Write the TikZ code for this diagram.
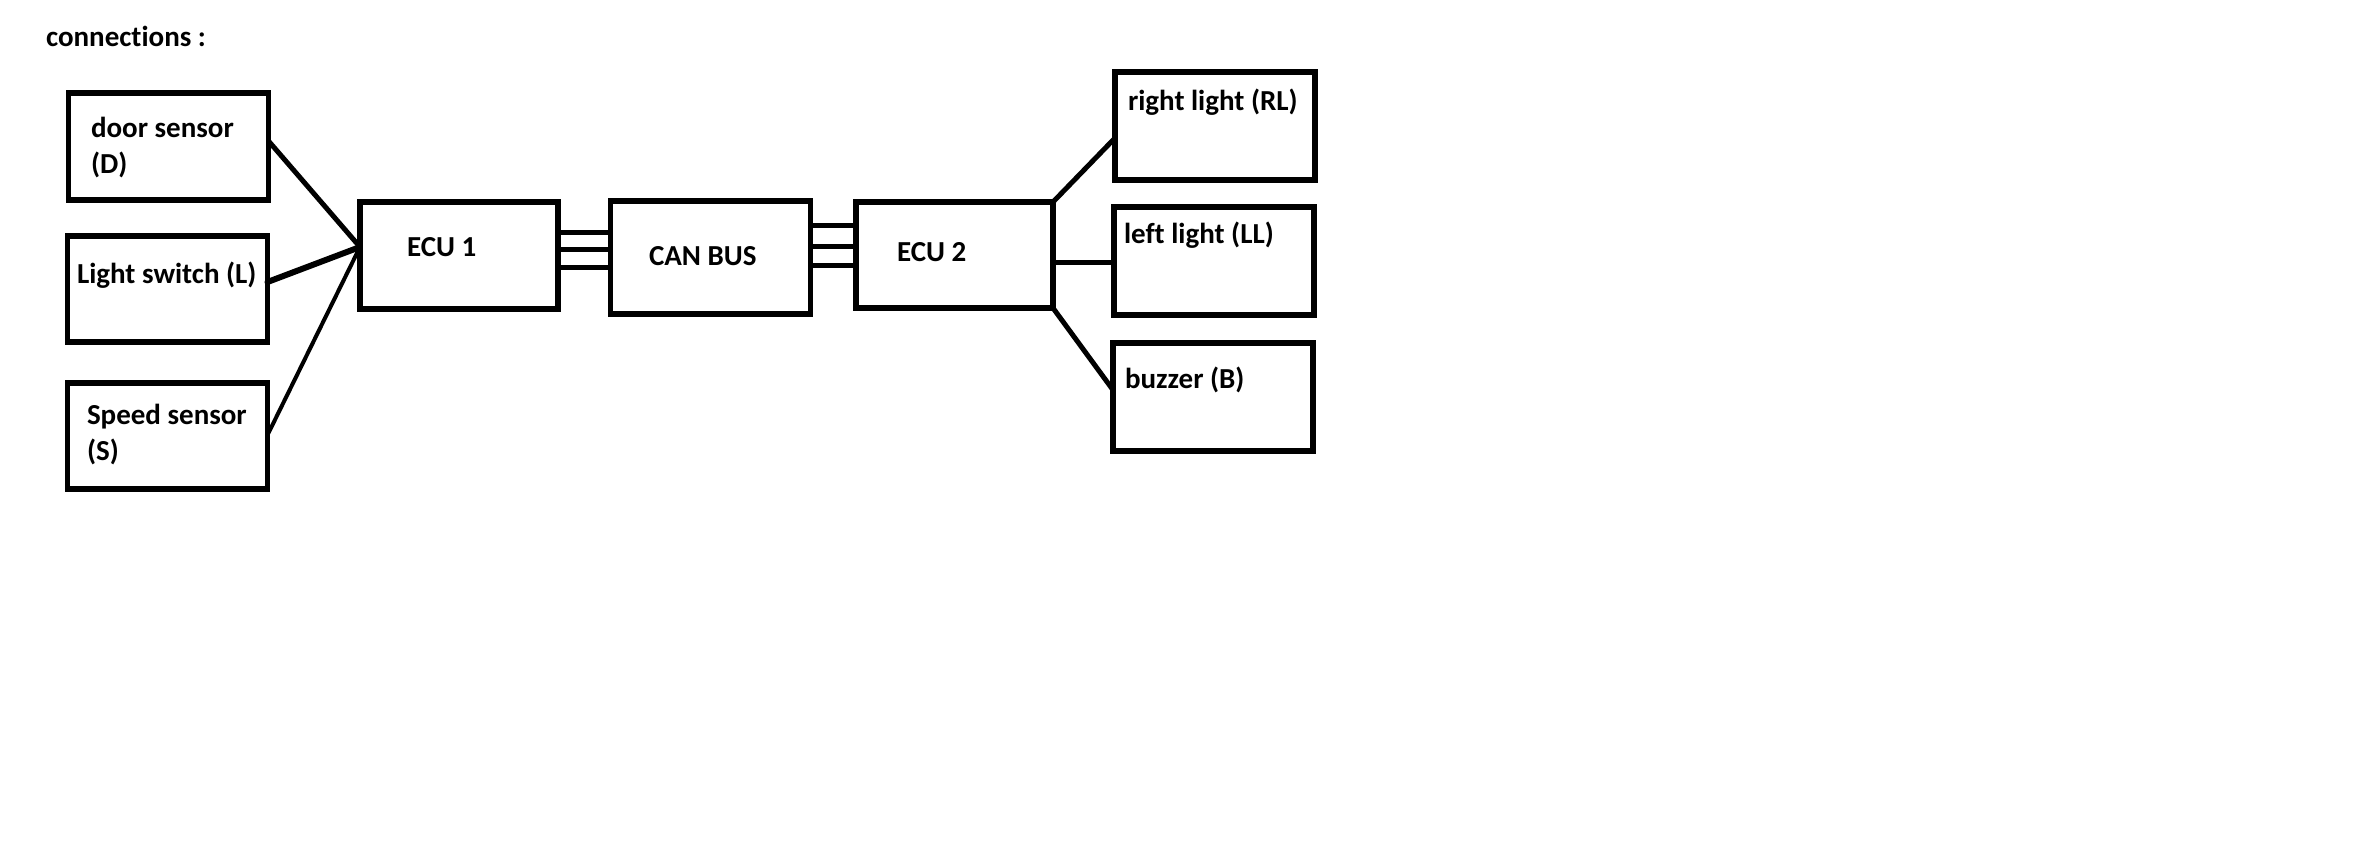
\documentclass[tikz,border=0pt]{standalone}
\usepackage{fontspec}
\setmainfont{Carlito}[Ligatures={NoCommon}]
\begin{document}
\begin{tikzpicture}[x=1pt,y=-1pt,
  box/.style={draw=black, line width=5.5pt, rectangle, inner sep=0pt, outer sep=0pt, minimum width=200pt},
  wire/.style={draw=black, line width=5pt},
  txt/.style={anchor=base west, inner sep=0pt, outer sep=0pt, font=\bfseries\fontsize{29pt}{35pt}\selectfont}]
\fill[white] (0,0) rectangle (2374,862);
\useasboundingbox (0,0) rectangle (2374,862);
% title
\node[txt] (title) at (46,46) {connections :};
% boxes
\node[box, minimum height=107pt] (door) at (168.5,146.5) {};
\node[box, minimum height=106pt] (light) at (167.5,289) {};
\node[box, minimum height=106pt] (speed) at (167.5,436) {};
\node[box, minimum width=198pt, minimum height=107pt] (ecuA) at (459,255.5) {};
\node[box, minimum height=113pt] (can) at (710.5,257.5) {};
\node[box, minimum width=197pt, minimum height=106pt] (ecuB) at (954.5,255) {};
\node[box, minimum width=200pt, minimum height=108pt] (rl) at (1215,126) {};
\node[box, minimum width=200pt, minimum height=108pt] (ll) at (1214,261) {};
\node[box, minimum width=200pt, minimum height=108pt] (bz) at (1213,397) {};
% labels
\node[txt] (doorA) at (91,137) {door sensor};
\node[txt] (doorB) at (91,173) {(D)};
\node[txt] (lightT) at (77,283) {Light switch (L)};
\node[txt] (speedA) at (87,424) {Speed sensor};
\node[txt] (speedB) at (87,460) {(S)};
\node[txt] (ecuAT) at (407,256) {ECU 1};
\node[txt] (canT) at (649,265) {CAN BUS};
\node[txt] (ecuBT) at (897,261) {ECU 2};
\node[txt] (rlT) at (1128,110) {right light (RL)};
\node[txt] (llT) at (1124,243) {left light (LL)};
\node[txt] (bzT) at (1125,388) {buzzer (B)};
% connectors into ECU 1
\draw[wire, line cap=round] ([yshift=5.5pt]door.east) -- ([yshift=8.5pt]ecuA.west);
\draw[wire, line cap=round, line width=6pt] ([yshift=7pt]light.east) -- ([yshift=8.5pt]ecuA.west);
\draw[wire, line cap=round, line width=4pt] ([yshift=1pt]speed.east) -- ([yshift=8.5pt]ecuA.west);
% ECU 1 to CAN BUS
\foreach \s in {23.5,6.5,-11.5}
  \draw[wire] ([yshift=\s pt]ecuA.east) coordinate (t) -- (t -| can.west);
% CAN BUS to ECU 2
\foreach \s in {32.5,11.5,-7.5}
  \draw[wire] ([yshift=\s pt]can.east) coordinate (t) -- (t -| ecuB.west);
% ECU 2 to outputs
\draw[wire] (ecuB.north east) -- ([yshift=-12pt]rl.west);
\draw[wire] ([yshift=-7pt]ecuB.east) coordinate (t) -- (t -| ll.west);
\draw[wire] (ecuB.south east) -- ([yshift=7pt]bz.west);
\end{tikzpicture}
\end{document}
